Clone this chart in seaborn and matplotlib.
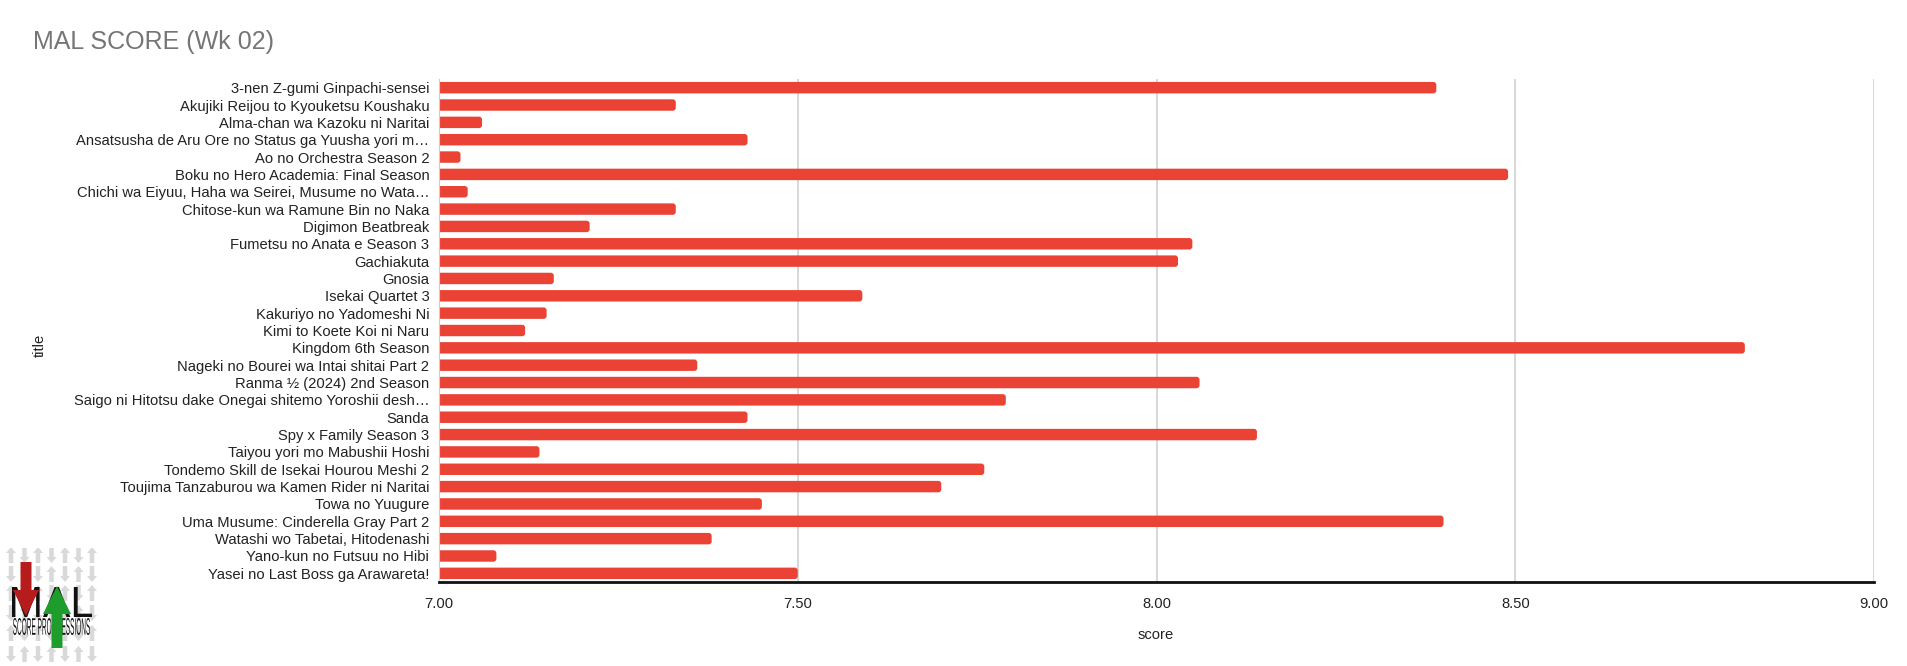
import matplotlib
matplotlib.use("Agg")
import matplotlib.pyplot as plt
import seaborn as sns
import pandas as pd
from matplotlib.textpath import TextPath
from matplotlib.patches import PathPatch, FancyArrow, FancyBboxPatch
from matplotlib.font_manager import FontProperties
from matplotlib.transforms import Affine2D

# data
titles = [
    "3-nen Z-gumi Ginpachi-sensei",
    "Akujiki Reijou to Kyouketsu Koushaku",
    "Alma-chan wa Kazoku ni Naritai",
    "Ansatsusha de Aru Ore no Status ga Yuusha yori m…",
    "Ao no Orchestra Season 2",
    "Boku no Hero Academia: Final Season",
    "Chichi wa Eiyuu, Haha wa Seirei, Musume no Wata…",
    "Chitose-kun wa Ramune Bin no Naka",
    "Digimon Beatbreak",
    "Fumetsu no Anata e Season 3",
    "Gachiakuta",
    "Gnosia",
    "Isekai Quartet 3",
    "Kakuriyo no Yadomeshi Ni",
    "Kimi to Koete Koi ni Naru",
    "Kingdom 6th Season",
    "Nageki no Bourei wa Intai shitai Part 2",
    "Ranma ½ (2024) 2nd Season",
    "Saigo ni Hitotsu dake Onegai shitemo Yoroshii desh…",
    "Sanda",
    "Spy x Family Season 3",
    "Taiyou yori mo Mabushii Hoshi",
    "Tondemo Skill de Isekai Hourou Meshi 2",
    "Toujima Tanzaburou wa Kamen Rider ni Naritai",
    "Towa no Yuugure",
    "Uma Musume: Cinderella Gray Part 2",
    "Watashi wo Tabetai, Hitodenashi",
    "Yano-kun no Futsuu no Hibi",
    "Yasei no Last Boss ga Arawareta!",
]
scores = [8.39, 7.33, 7.06, 7.43, 7.03, 8.49, 7.04, 7.33, 7.21, 8.05,
          8.03, 7.16, 7.59, 7.15, 7.12, 8.82, 7.36, 8.06, 7.79, 7.43,
          8.14, 7.14, 7.76, 7.70, 7.45, 8.40, 7.38, 7.08, 7.50]
x_ticks = [7.0, 7.5, 8.0, 8.5, 9.0]
x_tick_labels = ["7.00", "7.50", "8.00", "8.50", "9.00"]

df = pd.DataFrame({"title": titles, "score": scores})

sns.set_style("white")
plt.rcParams["font.family"] = ["Liberation Sans", "DejaVu Sans"]

W, H = 1907, 666
fig = plt.figure(figsize=(W / 100, H / 100), dpi=100)
ax_left, ax_right, ax_top, ax_bottom = 439, 1874, 79, 582
ax = fig.add_axes([ax_left / W, 1 - ax_bottom / H,
                   (ax_right - ax_left) / W, (ax_bottom - ax_top) / H])

sns.barplot(data=df, x="score", y="title", color="#ea4335", saturation=1,
            width=0.66, ax=ax)

ax.set_xlim(7, 9)

# swap the square bars for ones with slightly rounded ends
px_x = (ax_right - ax_left) / 2.0              # pixels per score unit
px_y = (ax_bottom - ax_top) / len(titles)      # pixels per category
for bar in list(ax.patches):
    x, y = bar.get_x(), bar.get_y()
    w, h = bar.get_width(), bar.get_height()
    rounded = FancyBboxPatch((x, y), w, h,
                             boxstyle=f"round,pad=0,rounding_size={3 / px_x}",
                             mutation_aspect=px_x / px_y,
                             facecolor=bar.get_facecolor(), lw=0, zorder=2)
    bar.remove()
    ax.add_patch(rounded)

ax.set_xticks(x_ticks)
ax.set_xticklabels(x_tick_labels)
ax.grid(axis="x", color="#d4d4d4", lw=1.3)
ax.set_axisbelow(True)
ax.tick_params(axis="x", length=0, pad=11, labelsize=10.6, labelcolor="#222222")
ax.tick_params(axis="y", length=0, pad=7, labelsize=10.6, labelcolor="#222222")
for s in ["top", "right"]:
    ax.spines[s].set_visible(False)
ax.spines["left"].set_color("#cccccc")
ax.spines["bottom"].set_color("#111111")
ax.spines["bottom"].set_linewidth(2)
ax.set_xlabel("")
ax.set_ylabel("")

fig.text(33 / W, 1 - 42 / H, "MAL SCORE (Wk 02)", fontsize=18, color="#757575",
         va="center")
fig.text(1156 / W, 1 - 635 / H, "score", fontsize=10.6, color="#222222",
         ha="center", va="center")
fig.text(40 / W, 1 - 345 / H, "title", fontsize=10.6, color="#222222",
         rotation=90, ha="center", va="center")


# rough version of the logo in the lower left corner
def fit_text(axis, s, x0, y0, x1, y1, color, weight="normal"):
    tp = TextPath((0, 0), s, size=10,
                  prop=FontProperties(family="Liberation Sans", weight=weight))
    bb = tp.get_extents()
    tr = (Affine2D().translate(-bb.x0, -bb.y0)
          .scale((x1 - x0) / bb.width, (y1 - y0) / bb.height)
          .translate(x0, y0))
    axis.add_patch(PathPatch(tr.transform_path(tp), lw=0, color=color, zorder=5))


lax = fig.add_axes([6 / W, 0, 91 / W, 118 / H])
lax.set_xlim(0, 91)
lax.set_ylim(0, 118)
lax.axis("off")
rows = [111, 92, 73, 53, 33, 12]
for r, yc in enumerate(rows):
    for c in range(7):
        xc = 5 + 13.5 * c
        up = (r + c) % 2 == 0
        dy = 16 if up else -16
        lax.add_patch(FancyArrow(xc, yc - dy / 2, 0, dy, width=4.5,
                                 head_width=10, head_length=6,
                                 length_includes_head=True, color="#d9d9d9",
                                 lw=0, zorder=1))
fit_text(lax, "MAL", 6, 49, 86, 79, "#111111")
lax.add_patch(FancyArrow(20, 104, 0, -54, width=11, head_width=26, head_length=26,
                         length_includes_head=True, color="#b71c1c", lw=0, zorder=6))
lax.add_patch(FancyArrow(51, 18, 0, 62, width=11, head_width=28, head_length=28,
                         length_includes_head=True, color="#1f9d2c", lw=0, zorder=6))
fit_text(lax, "SCORE PROGRESSIONS", 7, 31, 84, 48, "#111111")

fig.savefig("out.png", dpi=100)
